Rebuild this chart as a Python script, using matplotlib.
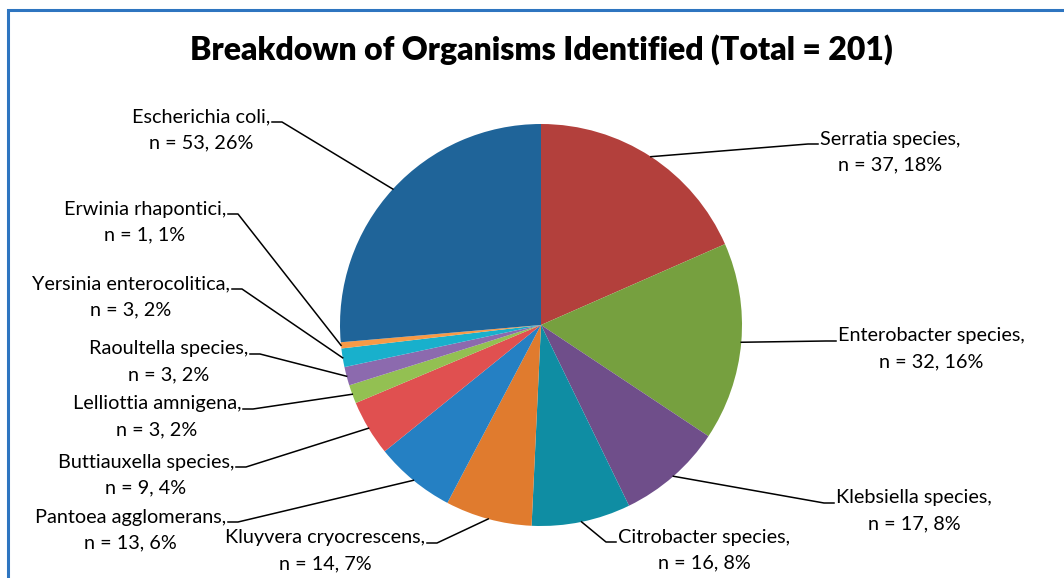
import numpy as np
import matplotlib
matplotlib.use("Agg")
import matplotlib.pyplot as plt
from matplotlib.lines import Line2D
from matplotlib.patches import Rectangle

# ---- data ----
organisms = ["Serratia species", "Enterobacter species", "Klebsiella species",
             "Citrobacter species", "Kluyvera cryocrescens", "Pantoea agglomerans",
             "Buttiauxella species", "Lelliottia amnigena", "Raoultella species",
             "Yersinia enterocolitica", "Erwinia rhapontici", "Escherichia coli"]
counts = [37, 32, 17, 16, 14, 13, 9, 3, 3, 3, 1, 53]
percents = [18, 16, 8, 8, 7, 6, 4, 2, 2, 2, 1, 26]
colors = ["#B3403C", "#76A03F", "#6F4E8A", "#0F8DA3", "#E07B2E", "#2580C3",
          "#E05050", "#93C052", "#8C6AAE", "#18B0CC", "#F79A46", "#1F6499"]

# label layout (pixel positions of the first line's leader anchor, side)
label_anchor = [(818, 144, "L"), (836, 341, "L"), (834, 503, "L"), (616, 542, "L"),
                (427, 543, "R"), (228, 522, "R"), (236, 467, "R"), (243, 409, "R"),
                (250, 354, "R"), (232, 289, "R"), (228, 214, "R"), (272, 122, "R")]

W, H = 1064, 578
fig = plt.figure(figsize=(W / 100, H / 100), dpi=100)
plt.rcParams['font.family'] = ['Lato', 'DejaVu Sans']

cx, cy, R = 541, 325, 201
ax = fig.add_axes([(cx - R) / W, (H - cy - R) / H, 2 * R / W, 2 * R / H])
ax.pie(counts, colors=colors, startangle=90, counterclock=False, radius=1,
       wedgeprops=dict(linewidth=0))
ax.set_xlim(-1, 1)
ax.set_ylim(-1, 1)
ax.set_aspect("equal")
ax.axis("off")

# border
fig.add_artist(Rectangle((8 / W, -0.1), 1.2, (H - 10) / H + 0.1, transform=fig.transFigure,
                         fill=False, edgecolor="#2E75C0", linewidth=2.2))

fig.text(cx / W, 1 - 50 / H, "Breakdown of Organisms Identified (Total = 201)",
         ha="center", va="center", fontsize=23, fontweight="heavy", color="black")

total = sum(counts)
cum = 0
def px(x, y):
    return x / W, 1 - y / H

for name, n, p, (axp, ayp, side) in zip(organisms, counts, percents, label_anchor):
    mid = (cum + n / 2) / total
    cum += n
    ang = np.deg2rad(90 - 360 * mid)
    ex, ey = np.cos(ang), np.sin(ang)
    disp = ax.transData.transform((ex, ey))
    fx, fy = fig.transFigure.inverted().transform(disp)
    stub = 10 if side == "R" else -10
    ax_f, ay_f = px(axp, ayp)
    sx, sy = px(axp + stub, ayp)
    fig.add_artist(Line2D([fx, sx, ax_f], [fy, sy, ay_f], transform=fig.transFigure,
                          color="black", linewidth=1.1))
    line1 = name + ","
    line2 = f"n = {n}, {p}%"
    ty1 = ay_f + 5 / H
    if side == "R":
        t = fig.text(ax_f - 2 / W, ty1, line1, ha="right", va="center", fontsize=14.3)
    else:
        t = fig.text(ax_f + 2 / W, ty1, line1, ha="left", va="center", fontsize=14.3)
    fig.canvas.draw()
    bb = t.get_window_extent()
    ccx = (bb.x0 + bb.x1) / 2 / W
    fig.text(ccx, ty1 - 26 / H, line2, ha="center", va="center", fontsize=14.3)

fig.savefig("out.png", dpi=100, facecolor="white")
